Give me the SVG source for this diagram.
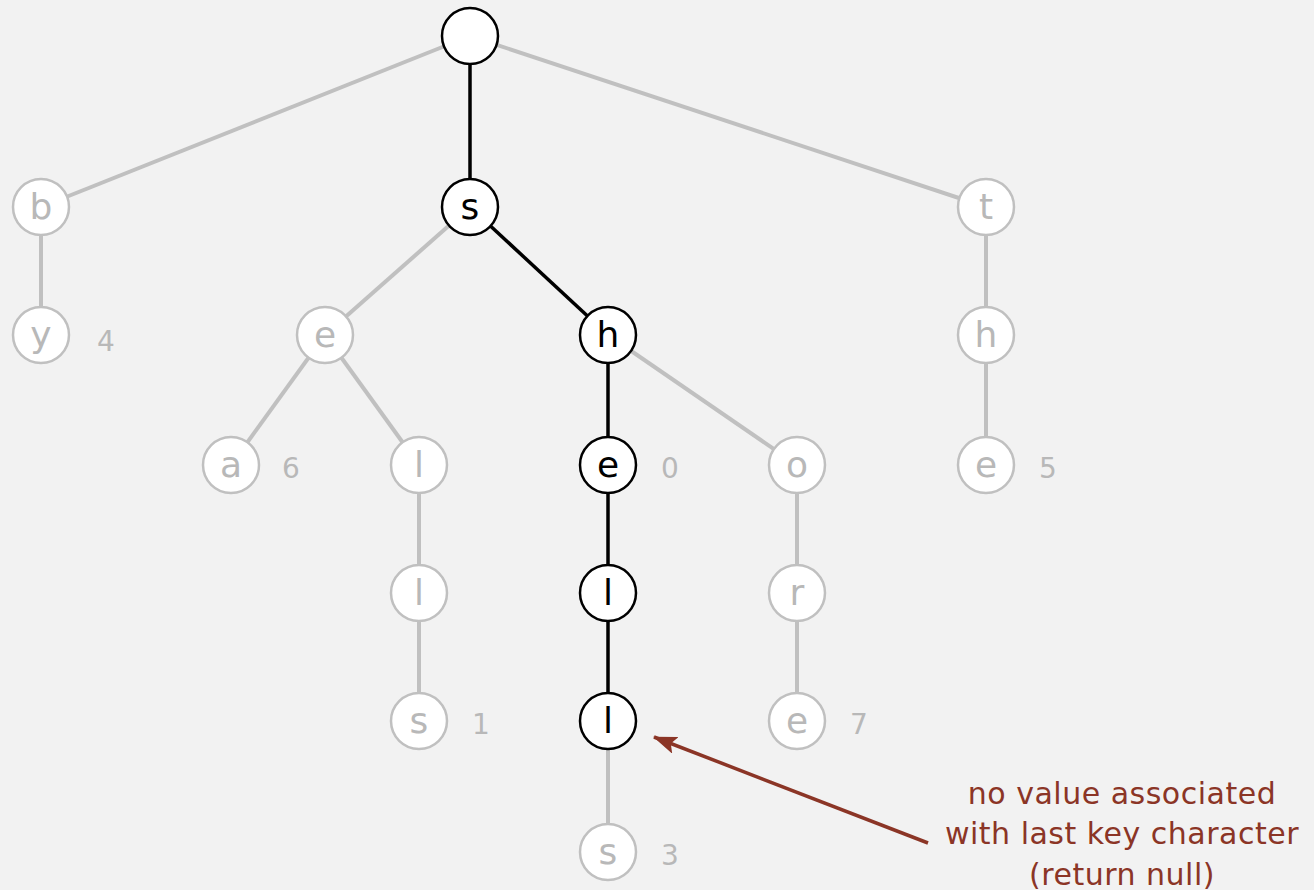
<svg xmlns="http://www.w3.org/2000/svg" width="1314" height="890" viewBox="0 0 1314 890">
<defs>
<style>
.g{stroke:#c0c0c0;stroke-width:4;fill:none}
.k{stroke:#000;stroke-width:3.5;fill:none}
.gn circle{fill:#fff;stroke:#c0c0c0;stroke-width:2.5}
.kn circle{fill:#fff;stroke:#000;stroke-width:2.5}
.gn text{fill:#b8b8b8}
.kn text{fill:#000}
text{font-family:"DejaVu Sans","Liberation Sans",sans-serif;font-size:36px;text-anchor:middle}
g text.v{fill:#b8b8b8;font-size:28px;text-anchor:start}
.note{fill:#8b3526;font-size:30px;letter-spacing:0.5px}
</style>
<marker id="ah" viewBox="0 0 24 18" refX="23" refY="9" markerWidth="24" markerHeight="18" markerUnits="userSpaceOnUse" orient="auto"><path d="M0,0 L24,9 L0,18 L5,9 Z" fill="#8b3526"/></marker>
</defs>
<rect width="1314" height="890" fill="#f2f2f2"/>
<g id="connectors">
<line class="g" x1="470" y1="36" x2="41" y2="207"/>
<line class="g" x1="470" y1="36" x2="986" y2="207"/>
<line class="k" x1="470" y1="36" x2="470" y2="207"/>
<line class="g" x1="41" y1="207" x2="41" y2="335"/>
<line class="g" x1="986" y1="207" x2="986" y2="335"/>
<line class="g" x1="986" y1="335" x2="986" y2="465"/>
<line class="g" x1="470" y1="207" x2="325" y2="335"/>
<line class="k" x1="470" y1="207" x2="608" y2="335"/>
<line class="g" x1="325" y1="335" x2="231" y2="465"/>
<line class="g" x1="325" y1="335" x2="419" y2="465"/>
<line class="g" x1="419" y1="465" x2="419" y2="593"/>
<line class="g" x1="419" y1="593" x2="419" y2="721"/>
<line class="k" x1="608" y1="335" x2="608" y2="465"/>
<line class="g" x1="608" y1="335" x2="797" y2="465"/>
<line class="k" x1="608" y1="465" x2="608" y2="593"/>
<line class="k" x1="608" y1="593" x2="608" y2="721"/>
<line class="g" x1="608" y1="721" x2="608" y2="852"/>
<line class="g" x1="797" y1="465" x2="797" y2="593"/>
<line class="g" x1="797" y1="593" x2="797" y2="721"/>
<line x1="928" y1="843" x2="654" y2="737" stroke="#8b3526" stroke-width="3.5" marker-end="url(#ah)"/>
</g>
<g id="root" class="kn"><circle cx="470" cy="36" r="28"/></g>
<g id="n-b" class="gn"><circle cx="41" cy="207" r="28"/><text x="41" y="219">b</text></g>
<g id="n-by" class="gn"><circle cx="41" cy="335" r="28"/><text x="41" y="347">y</text><text class="v" x="97" y="351">4</text></g>
<g id="n-s" class="kn"><circle cx="470" cy="207" r="28"/><text x="470" y="219">s</text></g>
<g id="n-t" class="gn"><circle cx="986" cy="207" r="28"/><text x="986" y="219">t</text></g>
<g id="n-th" class="gn"><circle cx="986" cy="335" r="28"/><text x="986" y="347">h</text></g>
<g id="n-the" class="gn"><circle cx="986" cy="465" r="28"/><text x="986" y="477">e</text><text class="v" x="1039" y="478">5</text></g>
<g id="n-se" class="gn"><circle cx="325" cy="335" r="28"/><text x="325" y="347">e</text></g>
<g id="n-sea" class="gn"><circle cx="231" cy="465" r="28"/><text x="231" y="477">a</text><text class="v" x="282" y="478">6</text></g>
<g id="n-sel" class="gn"><circle cx="419" cy="465" r="28"/><text x="419" y="477">l</text></g>
<g id="n-sell" class="gn"><circle cx="419" cy="593" r="28"/><text x="419" y="605">l</text></g>
<g id="n-sells" class="gn"><circle cx="419" cy="721" r="28"/><text x="419" y="733">s</text><text class="v" x="472" y="734">1</text></g>
<g id="n-sh" class="kn"><circle cx="608" cy="335" r="28"/><text x="608" y="347">h</text></g>
<g id="n-she" class="kn"><circle cx="608" cy="465" r="28"/><text x="608" y="477">e</text><text class="v" x="661" y="478">0</text></g>
<g id="n-shel" class="kn"><circle cx="608" cy="593" r="28"/><text x="608" y="605">l</text></g>
<g id="n-shell" class="kn"><circle cx="608" cy="721" r="28"/><text x="608" y="733">l</text></g>
<g id="n-shells" class="gn"><circle cx="608" cy="852" r="28"/><text x="608" y="864">s</text><text class="v" x="661" y="865">3</text></g>
<g id="n-sho" class="gn"><circle cx="797" cy="465" r="28"/><text x="797" y="477">o</text></g>
<g id="n-shor" class="gn"><circle cx="797" cy="593" r="28"/><text x="797" y="605">r</text></g>
<g id="n-shore" class="gn"><circle cx="797" cy="721" r="28"/><text x="797" y="733">e</text><text class="v" x="850" y="734">7</text></g>
<g id="note"><text class="note" x="1122" y="804">no value associated</text><text class="note" x="1122" y="844">with last key character</text><text class="note" x="1122" y="885">(return null)</text></g>
</svg>
